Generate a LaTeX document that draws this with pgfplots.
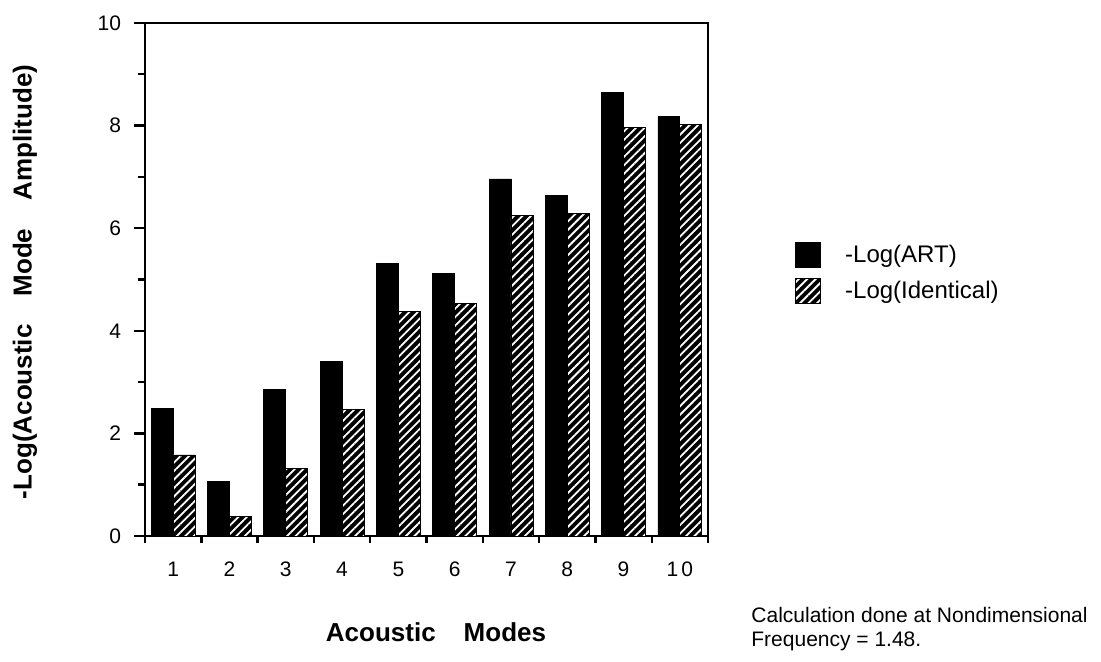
\documentclass[border=0pt]{standalone}
\usepackage{fontspec}
\setmainfont{Liberation Sans}
\usepackage{pgfplots}
\pgfplotsset{compat=1.18}
\usetikzlibrary{patterns.meta}
\pgfplotstableread{
x art ident
1  2.49 1.58
2  1.06 0.38
3  2.85 1.31
4  3.41 2.47
5  5.31 4.37
6  5.11 4.54
7  6.96 6.24
8  6.64 6.29
9  8.65 7.97
10 8.17 8.03
}\datatable
\begin{document}
\begin{tikzpicture}
\path (0,0) rectangle (550.5pt,331pt);
\begin{axis}[
  at={(72.5pt,63pt)}, anchor=south west,
  scale only axis, width=281.5pt, height=256.5pt,
  xmin=0.5, xmax=10.5, ymin=0, ymax=10,
  axis line style={line width=1.4pt},
  xtick={1,...,10},
  xticklabels={1,2,3,4,5,6,7,8,9,1\hspace{1.5pt}0},
  minor xtick={0.5,1.5,...,10.5},
  major x tick style={draw=none},
  ytick={0,2,...,10},
  minor ytick={1,3,...,9},
  tick align=outside, tick pos=left,
  major tick length=5.5pt, minor tick length=3.5pt,
  every tick/.style={line width=1.2pt, black},
  tick label style={font=\fontsize{10.5}{12}\selectfont},
  xticklabel style={yshift=-4pt},
  yticklabel style={xshift=-3pt},
  /pgf/number format/assume math mode=true,
  ybar=0pt, bar width=0.39,
  legend style={at={(1.1545,0.573)}, anchor=north west, draw=none, fill=none,
    inner sep=0pt, row sep=5pt, font=\fontsize{12}{14}\selectfont,
    nodes={inner sep=1pt, anchor=west}},
  legend cell align=left,
  legend image code/.code={\draw[#1,draw=black] (0pt,-6.25pt) rectangle (12.5pt,6.25pt);},
  /tikz/every odd column/.append style={column sep=11pt},
]
\addplot[draw=black, fill=black, bar shift=-0.195] table[x=x,y=art] {\datatable};
\addlegendentry{-Log(ART)}
\addplot[draw=black, fill=black, bar shift=0.195,
  postaction={pattern={Lines[angle=45,distance=3pt,line width=0.9pt]}, pattern color=white}]
  table[x=x,y=ident] {\datatable};
\addlegendentry{-Log(Identical)}
\end{axis}
\node[font=\bfseries\fontsize{13}{15}\selectfont] at (218pt,15pt) {Acoustic\hspace{14pt}Modes};
\node[font=\bfseries\fontsize{13}{15}\selectfont, rotate=90] at (12.5pt,190pt) {-Log(Acoustic\hspace{14pt}Mode\hspace{14pt}Amplitude)};
\node[font=\fontsize{10.5}{12.5}\selectfont, anchor=west, inner sep=0pt] at (375.5pt,23.5pt) {Calculation done at Nondimensional};
\node[font=\fontsize{10.5}{12.5}\selectfont, anchor=west, inner sep=0pt] at (375.5pt,10.5pt) {Frequency = 1.48.};
\end{tikzpicture}
\end{document}
